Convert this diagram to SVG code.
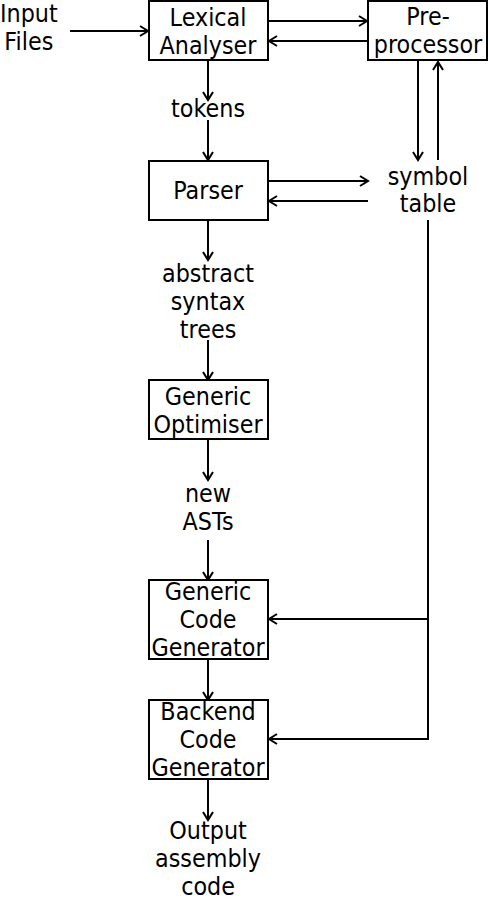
<svg xmlns="http://www.w3.org/2000/svg" width="490" height="902" viewBox="0 0 490 902">
<style>
.box{fill:#fff;stroke:#000;stroke-width:2}
.ln{fill:none;stroke:#000;stroke-width:2}
text{font-family:"DejaVu Sans",sans-serif;font-size:24px;fill:#000;text-anchor:middle}
</style>
<defs>
<marker id="ah" markerUnits="userSpaceOnUse" markerWidth="12" markerHeight="12" refX="9" refY="6" orient="auto">
<path d="M1,1 L9,6 L1,11" fill="none" stroke="#000" stroke-width="2"/>
</marker>
</defs>
<rect width="490" height="902" fill="#fff"/>
<g id="connectors">
<path class="ln" d="M70,31 H148" marker-end="url(#ah)"/>
<path class="ln" d="M268,21 H367" marker-end="url(#ah)"/>
<path class="ln" d="M368,41 H269" marker-end="url(#ah)"/>
<path class="ln" d="M208,60 V100" marker-end="url(#ah)"/>
<path class="ln" d="M208,120 V160" marker-end="url(#ah)"/>
<path class="ln" d="M418,61 V160" marker-end="url(#ah)"/>
<path class="ln" d="M438,160 V62" marker-end="url(#ah)"/>
<path class="ln" d="M268,181 H368" marker-end="url(#ah)"/>
<path class="ln" d="M368,201 H269" marker-end="url(#ah)"/>
<path class="ln" d="M208,220 V260" marker-end="url(#ah)"/>
<path class="ln" d="M208,340 V380" marker-end="url(#ah)"/>
<path class="ln" d="M208,439 V480" marker-end="url(#ah)"/>
<path class="ln" d="M208,540 V580" marker-end="url(#ah)"/>
<path class="ln" d="M208,659 V700" marker-end="url(#ah)"/>
<path class="ln" d="M208,779 V820" marker-end="url(#ah)"/>
<path class="ln" d="M428,220 V740"/>
<path class="ln" d="M429,619 H269" marker-end="url(#ah)"/>
<path class="ln" d="M429,739 H269" marker-end="url(#ah)"/>
</g>
<g id="input-files" transform="scale(0.93 1)">
<text x="31" y="22">Input</text>
<text x="31" y="50">Files</text>
</g>
<g id="lexical-analyser">
<rect class="box" x="149" y="1" width="119" height="59"/>
<g transform="scale(0.93 1)"><text x="223.7" y="26">Lexical</text><text x="223.7" y="54">Analyser</text></g>
</g>
<g id="preprocessor">
<rect class="box" x="368" y="1" width="119" height="59"/>
<g transform="scale(0.93 1)"><text x="460.2" y="25">Pre-</text><text x="460.2" y="53">processor</text></g>
</g>
<g id="tokens">
<g transform="scale(0.93 1)"><text x="223.7" y="117">tokens</text></g>
</g>
<g id="parser">
<rect class="box" x="149" y="161" width="119" height="59"/>
<g transform="scale(0.93 1)"><text x="223.7" y="199">Parser</text></g>
</g>
<g id="symbol-table">
<g transform="scale(0.93 1)"><text x="460.2" y="185">symbol</text><text x="460.2" y="212">table</text></g>
</g>
<g id="abstract-syntax-trees">
<g transform="scale(0.93 1)"><text x="223.7" y="282">abstract</text><text x="223.7" y="310">syntax</text><text x="223.7" y="338">trees</text></g>
</g>
<g id="generic-optimiser">
<rect class="box" x="149" y="380" width="119" height="59"/>
<g transform="scale(0.93 1)"><text x="223.7" y="405">Generic</text><text x="223.7" y="433">Optimiser</text></g>
</g>
<g id="new-asts">
<g transform="scale(0.93 1)"><text x="223.7" y="502">new</text><text x="223.7" y="530">ASTs</text></g>
</g>
<g id="generic-code-generator">
<rect class="box" x="149" y="580" width="119" height="79"/>
<g transform="scale(0.93 1)"><text x="223.7" y="600">Generic</text><text x="223.7" y="628">Code</text><text x="223.7" y="656">Generator</text></g>
</g>
<g id="backend-code-generator">
<rect class="box" x="149" y="700" width="119" height="79"/>
<g transform="scale(0.93 1)"><text x="223.7" y="720">Backend</text><text x="223.7" y="748">Code</text><text x="223.7" y="776">Generator</text></g>
</g>
<g id="output-assembly-code">
<g transform="scale(0.93 1)"><text x="223.7" y="839">Output</text><text x="223.7" y="867">assembly</text><text x="223.7" y="895">code</text></g>
</g>
</svg>
